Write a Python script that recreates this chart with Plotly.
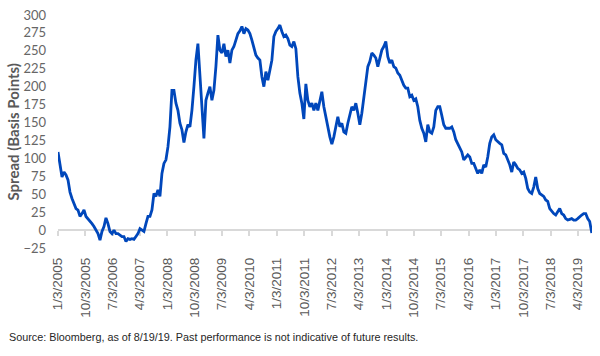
import pandas as pd
import plotly.graph_objects as go

# Spread values (basis points), sampled every 20 days from 1/3/2005
spread = [
    109, 93, 74, 81, 77, 70, 53, 44, 37, 30, 28, 19, 23, 28, 19, 16, 12, 9, 5, 0,
    -5, -14, -2, 5, 17, 9, -2, -5, 0, -5, -5, -7, -9, -9, -16, -12, -13, -12, -13, -9,
    -5, 2, 0, -2, 9, 19, 19, 28, 51, 47, 56, 47, 79, 93, 98, 116, 144, 195, 195, 177,
    167, 149, 140, 122, 137, 147, 144, 167, 200, 237, 260, 209, 172, 128, 181, 191, 200, 181, 195, 228,
    272, 251, 247, 260, 242, 251, 233, 251, 256, 265, 274, 278, 284, 274, 281, 279, 274, 265, 253, 244,
    240, 237, 214, 200, 221, 209, 223, 237, 270, 277, 281, 286, 277, 270, 272, 267, 258, 256, 263, 253,
    214, 191, 177, 155, 204, 181, 172, 177, 167, 177, 167, 181, 193, 172, 158, 140, 130, 120, 130, 144,
    158, 144, 149, 137, 135, 149, 163, 172, 167, 177, 163, 147, 163, 186, 209, 228, 235, 247, 244, 240,
    228, 242, 251, 256, 263, 242, 233, 237, 228, 226, 219, 216, 209, 202, 198, 198, 186, 188, 181, 183,
    172, 153, 142, 135, 123, 147, 137, 135, 144, 167, 172, 172, 160, 147, 142, 142, 142, 144, 137, 126,
    121, 116, 109, 98, 102, 105, 102, 93, 93, 86, 79, 84, 79, 91, 88, 102, 121, 130, 133, 126,
    123, 121, 119, 107, 105, 98, 91, 81, 95, 91, 86, 84, 79, 81, 72, 58, 53, 51, 60, 74,
    58, 51, 49, 47, 42, 40, 30, 26, 23, 21, 26, 30, 23, 21, 16, 14, 15, 16, 14, 14,
    16, 19, 21, 23, 23, 16, 12, -4,
]
start_date = "2005-01-03"
end_date = "2019-08-19"

tick_dates = [
    "2005-01-03", "2005-10-03", "2006-07-03", "2007-04-03", "2008-01-03",
    "2008-10-03", "2009-07-03", "2010-04-03", "2011-01-03", "2011-10-03",
    "2012-07-03", "2013-04-03", "2014-01-03", "2014-10-03", "2015-07-03",
    "2016-04-03", "2017-01-03", "2017-10-03", "2018-07-03", "2019-04-03",
]
tick_labels = [
    "1/3/2005", "10/3/2005", "7/3/2006", "4/3/2007", "1/3/2008",
    "10/3/2008", "7/3/2009", "4/3/2010", "1/3/2011", "10/3/2011",
    "7/3/2012", "4/3/2013", "1/3/2014", "10/3/2014", "7/3/2015",
    "4/3/2016", "1/3/2017", "10/3/2017", "7/3/2018", "4/3/2019",
]

dates = list(pd.date_range(start_date, periods=len(spread) - 1, freq="20D")) + [pd.Timestamp(end_date)]

x_range = [start_date, "2019-08-21"]
y_min, y_max = -25, 300

fig = go.Figure()
fig.add_trace(go.Scatter(
    x=dates, y=spread, mode="lines", opacity=0,
    line=dict(color="rgba(0,0,0,0)", width=0),
    xaxis="x2", yaxis="y", showlegend=False, hoverinfo="skip",
))
fig.add_trace(go.Scatter(
    x=dates, y=spread, mode="lines",
    line=dict(color="#0047BB", width=2.8),
    xaxis="x", yaxis="y", showlegend=False, hoverinfo="skip",
))

fig.update_layout(
    width=600, height=356,
    margin=dict(l=58, r=8, t=15, b=108),
    plot_bgcolor="white", paper_bgcolor="white",
    xaxis=dict(
        type="date", range=x_range,
        tickmode="array", tickvals=tick_dates, ticktext=tick_labels,
        tickangle=-90, showgrid=False, zeroline=False, showline=False,
        ticks="", ticklabelstandoff=6,
        tickfont=dict(family="Liberation Sans, Arial", size=13.5, color="#595959"),
    ),
    xaxis2=dict(
        type="date", range=x_range, overlaying="x", anchor="free",
        position=(0 - y_min) / (y_max - y_min), layer="below traces",
        tickmode="array", tickvals=tick_dates,
        showticklabels=False, showgrid=False, zeroline=False,
        showline=True, linecolor="#D9D9D9", linewidth=1.5,
        ticks="outside", ticklen=5, tickcolor="#D9D9D9", tickwidth=1.5,
    ),
    yaxis=dict(
        range=[y_min, y_max], dtick=25, tick0=0,
        showgrid=False, zeroline=False, showline=False,
        ticks="", ticklabelstandoff=11,
        tickfont=dict(family="Lato", size=13, color="#666666"),
    ),
    annotations=[
        dict(
            text="<b>Spread (Basis Points)</b>", textangle=-90,
            xref="paper", yref="paper", x=-0.086, y=0.5,
            xanchor="center", yanchor="middle", showarrow=False,
            font=dict(family="Lato", size=15, color="#595959"),
        ),
        dict(
            text="Source: Bloomberg, as of 8/19/19. Past performance is not indicative of future results.",
            xref="paper", yref="paper", x=-0.0955, y=-0.382,
            xanchor="left", yanchor="middle", showarrow=False,
            font=dict(family="Liberation Sans, Arial", size=10.8, color="#262626"),
        ),
    ],
)

fig.write_html("out.html")
